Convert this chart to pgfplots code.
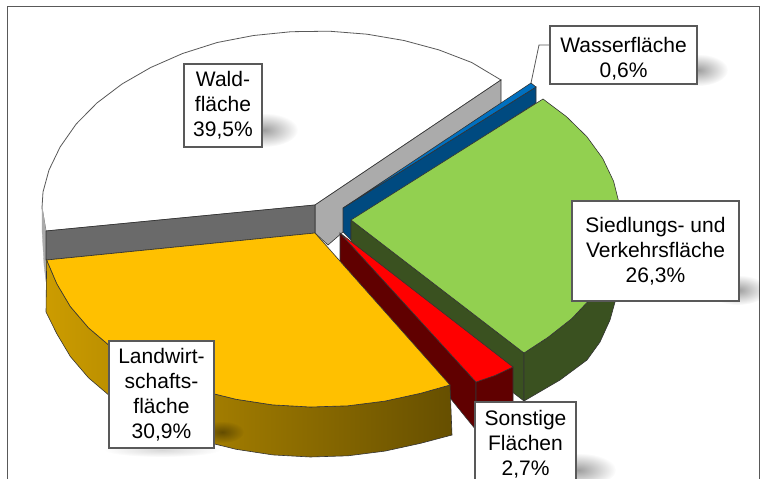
\documentclass[border=0pt]{standalone}
\usepackage{pgfplots}
\pgfplotsset{compat=1.18}
\usepackage{fontspec}
\setmainfont{Liberation Sans}
\usetikzlibrary{fadings}
\tikzfading[name=softb, inner color=transparent!62, outer color=transparent!100]
\definecolor{wgrey}{HTML}{6A6A6A}
\definecolor{lgrey}{HTML}{ABABAB}
\definecolor{blueT}{HTML}{0070C0}
\definecolor{blueW}{HTML}{004A80}
\definecolor{greenT}{HTML}{92D050}
\definecolor{greenW}{HTML}{3A5120}
\definecolor{yel}{HTML}{FFC000}
\definecolor{yelL}{HTML}{CC9C00}
\definecolor{yelM}{HTML}{7D6000}
\definecolor{yelR}{HTML}{664F00}
\definecolor{redW}{HTML}{600000}
\definecolor{frameC}{HTML}{595959}
\tikzset{lab/.style={draw=frameC,line width=1.1pt,fill=white,align=center,inner sep=0pt,anchor=center,
  font=\fontsize{21}{25}\selectfont},
  edge/.style={draw=black!80,line width=0.6pt}}
\begin{document}
\begin{tikzpicture}[x=1pt,y=1pt]
\clip (0,0) rectangle (760,479);
\begin{axis}[at={(0,0)},anchor=south west,scale only axis,width=760pt,height=479pt,
  xmin=0,xmax=760,ymin=0,ymax=479,y dir=reverse,axis lines=none,clip=false]
% Frame
\addplot[draw=frameC,line width=0.8pt] coordinates {(7,490)(7,6)(759,6)(759,490)};
% Wald top
\addplot[fill=white,draw=frameC,line width=0.8pt] coordinates {(315,205)(501,80)(471.7,62.5)(438.9,49.9)(404,40.5)(367.1,34.2)(329.3,31.2)(291.2,31.7)(253.6,35.5)(217.2,42.5)(182.6,53.5)(150.7,67.5)(122,84)(96.9,103)(76.2,124)(60.1,147)(49,170)(43,192)(42,208)(46,231)} -- cycle;
% Wald rim and walls
\addplot[fill=lgrey,draw=lgrey,line width=0.3pt] coordinates {(42,205)(46,231)(46,282)(44,265)(42,230)} -- cycle;
\addplot[fill=lgrey,edge] coordinates {(315,205)(501,80)(501,104)(400,175)(343,232)(328,245)(315,233)} -- cycle;
\addplot[fill=wgrey,edge] coordinates {(46,231)(315,205)(315,233)(46,260)} -- cycle;
% Wasser
\addplot[fill=blueW,edge] coordinates {(343,208)(536,87)(536,103)(351,222)(351,240)(343,232)} -- cycle;
\addplot[fill=blueT,edge] coordinates {(343,208)(531,83)(536,87)} -- cycle;
% Siedlung
\addplot[fill=greenW,edge] coordinates {(351,220)(524,353)(524,401)(351,268)} -- cycle;
\addplot[fill=greenW,edge] coordinates {(620.2,229)(615.6,252.9)(605.9,276)(591.1,298.1)(571.7,318.7)(548,337.3)(524,353)(524,401)(560,380)(587,360)(600,342)(610,320)(615,302)(620,277)} -- cycle;
\addplot[fill=greenT,edge] coordinates {(351,220)(543,99)(566.3,116.5)(586.8,136.6)(602.7,158.4)(613.6,181.3)(619.5,205)(620.2,229)(615.6,252.9)(605.9,276)(591.1,298.1)(571.7,318.7)(548,337.3)(524,353)} -- cycle;
% Sonstige side wall
\addplot[fill=redW,edge] coordinates {(340,233)(476,382)(476,430)(340,262)} -- cycle;
% Landwirtschaft wall
\addplot[left color=yelL,middle color=yelM,right color=yelR,edge] coordinates {(46.7,260)(56.9,283.9)(70.4,306.6)(88.5,327.8)(111.2,347.1)(137.9,364.4)(167.9,379)(200.8,390.6)(236.2,399.3)(272.8,404.9)(310.4,407)(347.9,405.8)(384.9,401.1)(420.6,393.3)(450,385)(452,435)(420.6,443.3)(384.9,451.1)(347.9,455.8)(310.4,457)(272.8,454.9)(236.2,449.3)(200.8,440.6)(167.9,429)(137.9,414.4)(111.2,397.1)(88.5,377.8)(70.4,356.6)(56.9,333.9)(46,312)} -- cycle;
% Landwirtschaft top
\addplot[fill=yel,edge] coordinates {(315,233)(46.7,260)(56.9,283.9)(70.4,306.6)(88.5,327.8)(111.2,347.1)(137.9,364.4)(167.9,379)(200.8,390.6)(236.2,399.3)(272.8,404.9)(310.4,407)(347.9,405.8)(384.9,401.1)(420.6,393.3)(450,385)} -- cycle;
% Sonstige front and top
\addplot[fill=redW,edge] coordinates {(476,382)(513,367)(513,415)(476,430)} -- cycle;
\addplot[fill=red,edge] coordinates {(340,233)(513,367)(495,375.5)(476,382)} -- cycle;
% Leader
\addplot[draw=frameC,line width=0.8pt] coordinates {(531,83)(539,45)(550,45)};
% Shadows
\fill[black,path fading=softb] (axis cs:264,130) ellipse (34 and 17);
\fill[black,path fading=softb] (axis cs:698,70) ellipse (30 and 16);
\fill[black,path fading=softb] (axis cs:738,290) ellipse (30 and 15);
\fill[black,path fading=softb] (axis cs:578,470) ellipse (38 and 17);
\fill[black,path fading=softb] (axis cs:222,432) ellipse (22 and 11);
\fill[black,opacity=.4,path fading=softb] (axis cs:162,450) ellipse (58 and 7);
% Labels
\node[lab,minimum width=147,minimum height=58] at (axis cs:623.5,55) {\rule{0pt}{23pt}Wasserfläche\\0,6\%};
\node[lab,minimum width=167,minimum height=100] at (axis cs:655.5,251) {Siedlungs- und\\Verkehrsfläche\\26,3\%};
\node[lab,minimum width=101,minimum height=84] at (axis cs:525.5,444) {Sonstige\\Flächen\\2,7\%};
\node[lab,minimum width=105,minimum height=107] at (axis cs:161.5,394.5) {Landwirt-\\schafts-\\fläche\\30,9\%};
\node[lab,minimum width=78,minimum height=83] at (axis cs:223,105.5) {Wald-\\fläche\\39,5\%};
\end{axis}
\end{tikzpicture}
\end{document}
